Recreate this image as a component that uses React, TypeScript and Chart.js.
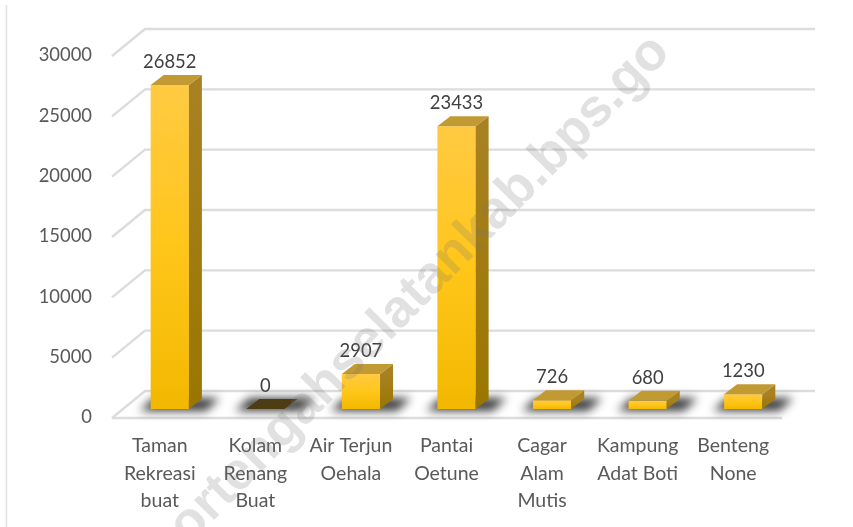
import React, { useEffect, useRef } from "react";
import { Chart, registerables } from "chart.js";

Chart.register(...registerables);

const categories = [
  ["Taman", "Rekreasi", "buat"],
  ["Kolam", "Renang", "Buat"],
  ["Air Terjun", "Oehala"],
  ["Pantai", "Oetune"],
  ["Cagar", "Alam", "Mutis"],
  ["Kampung", "Adat Boti"],
  ["Benteng", "None"],
];
const visitors = [26852, 0, 2907, 23433, 726, 680, 1230];
const watermark = "timortengahselatankab.bps.go";

const FONT = "Lato, Carlito, Calibri, sans-serif";
const DX = 13;
const DY = -10;

const sceneryPlugin = {
  id: "scenery",
  beforeDatasetsDraw(chart: any) {
    const { ctx, scales } = chart;
    const x = scales.x;
    const y = scales.y;
    ctx.save();
    // frame line at left of the chart object
    ctx.strokeStyle = "#e3e3e3";
    ctx.lineWidth = 1.5;
    ctx.beginPath();
    ctx.moveTo(6.5, 5);
    ctx.lineTo(6.5, 527);
    ctx.stroke();
    // walls
    ctx.strokeStyle = "#dcdcdc";
    ctx.lineWidth = 2.4;
    for (const t of y.ticks) {
      const py = y.getPixelForValue(t.value);
      ctx.beginPath();
      ctx.moveTo(x.left - 10, py + 9);
      ctx.lineTo(x.left + 23, py - 18);
      ctx.lineTo(x.right + 24, py - 18);
      ctx.stroke();
    }
    const y0 = y.getPixelForValue(0);
    ctx.beginPath();
    ctx.moveTo(x.left - 10, y0 + 9);
    ctx.lineTo(x.right - 9, y0 + 9);
    ctx.stroke();
    // floor shadows
    const meta = chart.getDatasetMeta(0);
    for (const bar of meta.data) {
      const l = bar.x - bar.width / 2;
      const r = bar.x + bar.width / 2;
      ctx.save();
      ctx.filter = "blur(5px)";
      ctx.fillStyle = "rgba(25,25,25,0.85)";
      ctx.beginPath();
      ctx.moveTo(l - 11, y0 + 2);
      ctx.lineTo(r + 17, y0 + 2);
      ctx.lineTo(r + 31, y0 - 11);
      ctx.lineTo(l + 3, y0 - 11);
      ctx.closePath();
      ctx.fill();
      ctx.restore();
    }
    ctx.restore();
  },
  afterDatasetsDraw(chart: any) {
    const { ctx, scales } = chart;
    const y0 = scales.y.getPixelForValue(0);
    const meta = chart.getDatasetMeta(0);
    ctx.save();
    meta.data.forEach((bar: any, i: number) => {
      const v = visitors[i];
      const l = bar.x - bar.width / 2;
      const r = bar.x + bar.width / 2;
      const t = bar.y;
      // side face
      if (v > 0) {
        const side = ctx.createLinearGradient(0, t, 0, y0);
        side.addColorStop(0, "#a88122");
        side.addColorStop(1, "#9a7600");
        ctx.fillStyle = side;
        ctx.beginPath();
        ctx.moveTo(r, t);
        ctx.lineTo(r + DX, t + DY);
        ctx.lineTo(r + DX, y0 + DY);
        ctx.lineTo(r, y0);
        ctx.closePath();
        ctx.fill();
      }
      // top face
      ctx.fillStyle = v > 0 ? "#c29a33" : "#4d3c14";
      ctx.beginPath();
      ctx.moveTo(l, t);
      ctx.lineTo(l + DX, t + DY);
      ctx.lineTo(r + DX, t + DY);
      ctx.lineTo(r, t);
      ctx.closePath();
      ctx.fill();
      // value label
      ctx.fillStyle = "#404040";
      ctx.font = `18.4px ${FONT}`;
      ctx.textAlign = "center";
      ctx.textBaseline = "middle";
      ctx.fillText(String(v), bar.x, t - 23);
    });
    ctx.restore();
  },
  afterDraw(chart: any) {
    const { ctx } = chart;
    ctx.save();
    ctx.translate(392, 318);
    ctx.rotate((-45.5 * Math.PI) / 180);
    ctx.fillStyle = "rgba(120,120,120,0.22)";
    ctx.font = "bold 53px 'Liberation Sans', Arial, sans-serif";
    ctx.textAlign = "center";
    ctx.textBaseline = "middle";
    ctx.fillText(watermark, 0, 0);
    ctx.restore();
  },
};

export default function App() {
  const ref = useRef<HTMLCanvasElement>(null);
  useEffect(() => {
    document.body.style.margin = "0";
    const chart = new Chart(ref.current as HTMLCanvasElement, {
      type: "bar",
      data: {
        labels: categories,
        datasets: [
          {
            data: visitors,
            barPercentage: 0.4,
            categoryPercentage: 1,
            backgroundColor: (c: any) => {
              const area = c.chart.chartArea;
              const yScale = c.chart.scales?.y;
              if (!area || !yScale) return "#fcc30a";
              const top = yScale.getPixelForValue(visitors[c.dataIndex]);
              if (!Number.isFinite(top) || !Number.isFinite(area.bottom)) return "#fcc30a";
              const g = c.chart.ctx.createLinearGradient(0, top, 0, area.bottom);
              g.addColorStop(0, "#ffca42");
              g.addColorStop(0.5, "#ffc61a");
              g.addColorStop(1, "#f2b800");
              return g;
            },
          },
        ],
      },
      options: {
        responsive: false,
        animation: false,
        layout: { padding: { left: 0, right: 62, top: 47, bottom: 0 } },
        plugins: { legend: { display: false }, tooltip: { enabled: false } },
        scales: {
          x: {
            grid: { display: false, drawTicks: false },
            border: { display: false },
            afterFit: (s: any) => {
              s.height = 118;
            },
            ticks: {
              color: "#595959",
              font: { family: FONT, size: 19.5, lineHeight: 1.41 },
              padding: 23,
              labelOffset: -10,
              maxRotation: 0,
              autoSkip: false,
            },
          },
          y: {
            min: 0,
            max: 30000,
            grid: { display: false, drawTicks: false },
            border: { display: false },
            afterFit: (s: any) => {
              s.width = 122;
            },
            ticks: {
              stepSize: 5000,
              color: "#595959",
              font: { family: FONT, size: 18.4 },
              padding: 30,
              labelOffset: 8.5,
              callback: (v: any) => String(v),
            },
          },
        },
      },
      plugins: [sceneryPlugin],
    } as any);
    return () => chart.destroy();
  }, []);
  return <canvas ref={ref} width={853} height={527} style={{ display: "block" }} />;
}
